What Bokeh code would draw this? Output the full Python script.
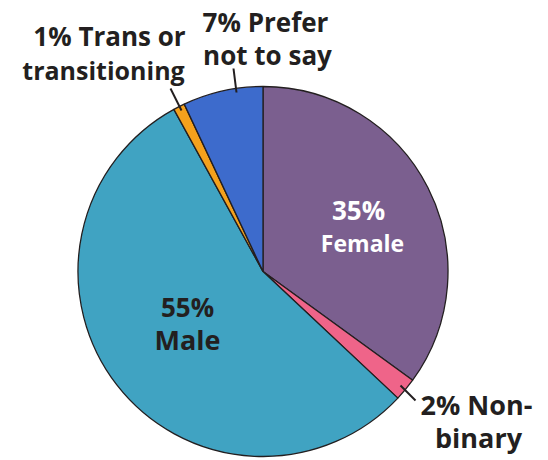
import numpy as np
from bokeh.plotting import figure
from bokeh.models import Range1d, ColumnDataSource
from bokeh.core.properties import value
from bokeh.embed import file_html
from bokeh.resources import INLINE

# ---- data ----
categories = ["Female", "Non-binary", "Male", "Trans or transitioning", "Prefer not to say"]
shares = [35, 2, 55, 1, 7]
colors = ["#7b5f8f", "#ef6489", "#40a3c2", "#f4a11c", "#3d6bcc"]
label_lines = [["35%", "Female"], ["2% Non-", "binary"], ["55%", "Male"],
               ["1% Trans or", "transitioning"], ["7% Prefer", "not to say"]]

# ---- layout (page-pixel coordinates, y flipped to negative) ----
W, H = 548, 460
cx, cy, r = 262.5, -271.0, 185.0
dark = "#231f20"
text_shift = 11  # compensate renderer's baseline offset

vals = np.array(shares, dtype=float)
frac = vals / vals.sum()
cum_end = np.cumsum(frac)
cum_start = cum_end - frac
start = np.pi / 2 - 2 * np.pi * cum_end
end = np.pi / 2 - 2 * np.pi * cum_start

p = figure(width=W, height=H, x_range=Range1d(0, W), y_range=Range1d(-H, 0),
           output_backend="svg", toolbar_location=None, min_border=0,
           x_axis_type=None, y_axis_type=None)
p.grid.visible = False
p.outline_line_color = None
p.background_fill_color = "white"
p.border_fill_color = "white"

src = ColumnDataSource(dict(start=start, end=end, color=colors, cat=categories))
p.wedge(x=cx, y=cy, radius=r, start_angle="start", end_angle="end", direction="anticlock",
        fill_color="color", line_color=dark, line_width=1.3, source=src)

# leader lines for the small slices
leaders = {
    "Non-binary": ((400, 385), (415, 400)),
    "Trans or transitioning": ((170, 88), (181, 110)),
    "Prefer not to say": ((233, 68), (236, 92)),
}
for cat, ((x0, y0), (x1, y1)) in leaders.items():
    p.segment(x0=x0, y0=-y0, x1=x1, y1=-y1, line_color=dark, line_width=2)

# label placement: per line (center x, baseline, size), plus colour
placement = {
    "Female": ([(358, 220, "26px"), (362, 253, "23px")], "white"),
    "Non-binary": ([(476, 415, "27px"), (478, 448, "27px")], dark),
    "Male": ([(187, 317, "26px"), (187, 350, "27px")], dark),
    "Trans or transitioning": ([(109, 46, "26px"), (103, 80, "25px")], dark),
    "Prefer not to say": ([(265, 32, "26px"), (267, 65, "26px")], dark),
}
for cat, lines in zip(categories, label_lines):
    spots, col = placement[cat]
    for txt, (x, b, size) in zip(lines, spots):
        p.text(x=[x], y=[-(b - text_shift)], text=[txt], text_align="center",
               text_baseline="alphabetic", text_font=value("Open Sans"),
               text_font_style="bold", text_font_size=size, text_color=col)

open("out.html", "w").write(file_html(p, INLINE))
